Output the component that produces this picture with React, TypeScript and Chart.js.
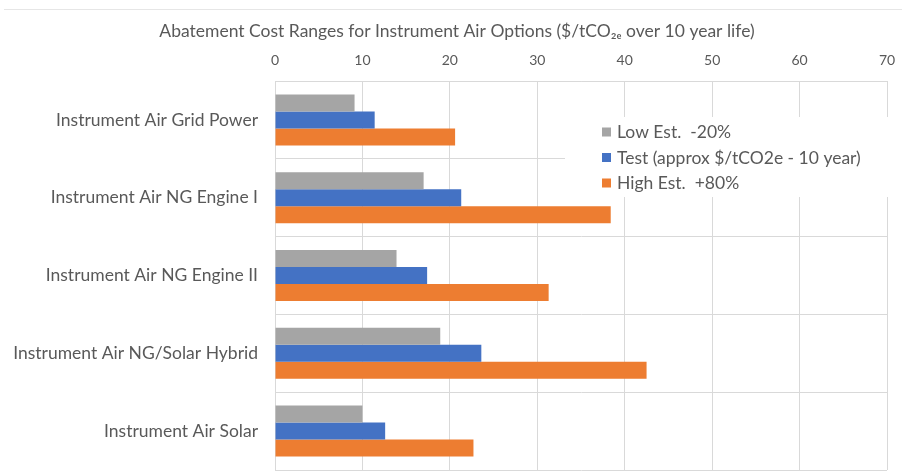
import React, { useEffect, useRef } from "react";
import { Chart, registerables } from "chart.js";

Chart.register(...registerables);

const categories = [
  "Instrument Air Grid Power",
  "Instrument Air NG Engine I",
  "Instrument Air NG Engine II",
  "Instrument Air NG/Solar Hybrid",
  "Instrument Air Solar",
];
const lowEst = [9.1, 17.0, 13.9, 18.9, 10.0];
const testVals = [11.4, 21.3, 17.4, 23.6, 12.6];
const highEst = [20.6, 38.4, 31.3, 42.5, 22.7];
const seriesLabels = ["Low Est.  -20%", "Test (approx $/tCO2e - 10 year)", "High Est.  +80%"];
const seriesColors = ["#a5a5a5", "#4472c4", "#ed7d31"];
const xMin = 0;
const xMax = 70;
const xStep = 10;
const chartTitle = "Abatement Cost Ranges for Instrument Air Options ($/tCO\u2082\u2091 over 10 year life)";

const FONT = "Lato, 'Noto Sans', sans-serif";
const TEXT = "#595959";
const GRID = "#d9d9d9";

const frameLine = {
  id: "frameLine",
  beforeDraw(chart: any) {
    const ctx = chart.ctx;
    ctx.save();
    ctx.strokeStyle = "#e6e6e6";
    ctx.lineWidth = 1;
    ctx.beginPath();
    ctx.moveTo(4, 9.5);
    ctx.lineTo(chart.width, 9.5);
    ctx.stroke();
    ctx.restore();
  },
};

const insideLegend = {
  id: "insideLegend",
  beforeDatasetsDraw(chart: any) {
    const ctx = chart.ctx;
    const area = chart.chartArea;
    const boxX = area.left + 290;
    const boxY = 117;
    ctx.save();
    ctx.fillStyle = "#ffffff";
    ctx.fillRect(boxX, boxY, area.right + 3 - boxX, 80);
    ctx.font = `17.5px ${FONT}`;
    ctx.textBaseline = "middle";
    ctx.textAlign = "left";
    chart.data.datasets.forEach((ds: any, i: number) => {
      const cy = 132 + i * 25.5;
      ctx.fillStyle = ds.backgroundColor;
      ctx.fillRect(area.left + 327, cy - 4.5, 9, 9);
      ctx.fillStyle = TEXT;
      ctx.fillText(ds.label, area.left + 342, cy + 0.5);
    });
    ctx.restore();
  },
};

export default function App() {
  const ref = useRef<HTMLCanvasElement | null>(null);

  useEffect(() => {
    document.body.style.margin = "0";
    if (!ref.current) return;
    const chart = new Chart(ref.current, {
      type: "bar",
      data: {
        labels: categories,
        datasets: [
          { label: seriesLabels[0], data: lowEst, backgroundColor: seriesColors[0] },
          { label: seriesLabels[1], data: testVals, backgroundColor: seriesColors[1] },
          { label: seriesLabels[2], data: highEst, backgroundColor: seriesColors[2] },
        ],
      },
      options: {
        indexAxis: "y",
        responsive: true,
        maintainAspectRatio: false,
        animation: false,
        layout: { padding: { left: 12, right: 0, top: 0, bottom: 5 } },
        datasets: {
          bar: { categoryPercentage: 0.655, barPercentage: 1.0, borderWidth: 0 },
        },
        plugins: {
          legend: { display: false },
          tooltip: { enabled: false },
          title: {
            display: true,
            text: chartTitle,
            color: TEXT,
            font: { family: FONT, size: 17.5, weight: "normal" },
            padding: { top: 20.5, bottom: 6 },
          },
        },
        scales: {
          x: {
            position: "top",
            min: xMin,
            max: xMax,
            ticks: {
              stepSize: xStep,
              color: TEXT,
              padding: 12.6,
              font: { family: FONT, size: 14 },
            },
            grid: { color: GRID, drawTicks: false, lineWidth: 1 },
            border: { color: GRID },
            afterFit: (scale: any) => {
              scale.height = 33.5;
              scale.paddingLeft = 0;
              scale.paddingRight = 15;
              scale.paddingTop = 0;
              scale.paddingBottom = 0;
            },
          },
          y: {
            ticks: {
              color: TEXT,
              padding: 17,
              font: { family: FONT, size: 17.5 },
            },
            grid: { color: GRID, drawTicks: false, offset: true, lineWidth: 1 },
            border: { color: GRID },
            afterFit: (scale: any) => {
              scale.width = 263;
              scale.paddingLeft = 0;
              scale.paddingRight = 0;
              scale.paddingTop = 0;
              scale.paddingBottom = 0;
            },
          },
        },
      },
      plugins: [frameLine, insideLegend],
    });
    return () => chart.destroy();
  }, []);

  return (
    <div style={{ position: "relative", width: 902, height: 475 }}>
      <canvas ref={ref} />
    </div>
  );
}
